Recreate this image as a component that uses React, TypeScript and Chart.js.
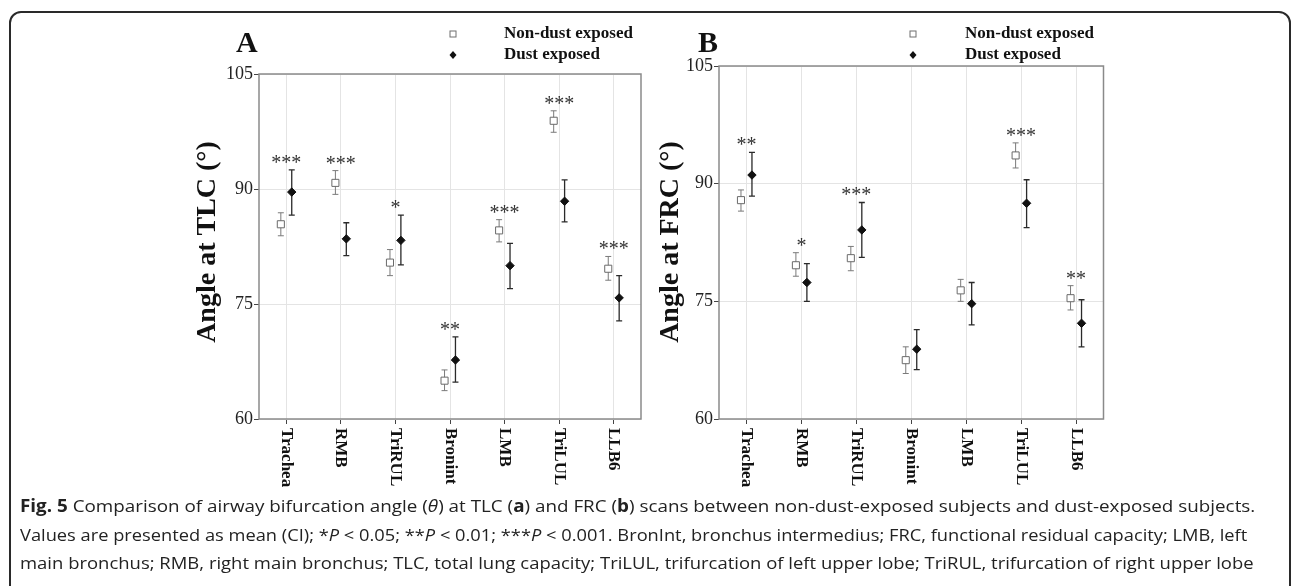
import React, { useEffect, useLayoutEffect, useRef } from "react";
import { Chart, registerables } from "chart.js";
Chart.register(...registerables);

// ---------- data ----------
const categories = ["Trachea", "RMB", "TriRUL", "Bronint", "LMB", "TriLUL", "LLB6"];
const yTicks = [60, 75, 90, 105];
const seriesLabels = ["Non-dust exposed", "Dust exposed"];

// Panel A: angle at TLC
const tlcNonDustMean = [85.4, 90.8, 80.4, 65.0, 84.6, 98.9, 79.6];
const tlcNonDustLow = [83.9, 89.3, 78.7, 63.7, 83.1, 97.4, 78.1];
const tlcNonDustHigh = [86.9, 92.4, 82.1, 66.4, 86.0, 100.2, 81.2];
const tlcDustMean = [89.6, 83.5, 83.3, 67.7, 80.0, 88.4, 75.8];
const tlcDustLow = [86.6, 81.3, 80.1, 64.8, 77.0, 85.7, 72.8];
const tlcDustHigh = [92.5, 85.6, 86.6, 70.7, 82.9, 91.2, 78.7];
const tlcSig = ["***", "***", "*", "**", "***", "***", "***"];

// Panel B: angle at FRC
const frcNonDustMean = [87.9, 79.6, 80.5, 67.5, 76.4, 93.6, 75.4];
const frcNonDustLow = [86.5, 78.2, 78.9, 65.8, 75.0, 92.0, 73.9];
const frcNonDustHigh = [89.2, 81.2, 82.0, 69.2, 77.8, 95.2, 77.0];
const frcDustMean = [91.1, 77.4, 84.1, 68.9, 74.7, 87.5, 72.2];
const frcDustLow = [88.4, 75.0, 80.6, 66.3, 72.0, 84.4, 69.2];
const frcDustHigh = [94.0, 79.8, 87.6, 71.4, 77.4, 90.5, 75.2];
const frcSig = ["**", "*", "***", "", "", "***", "**"];

const SERIF = '"Liberation Serif", "Times New Roman", serif';

type PanelCfg = {
  letter: string;
  yTitle: string;
  nd: { mean: number[]; low: number[]; high: number[] };
  d: { mean: number[]; low: number[]; high: number[] };
  sig: string[];
  W: number;
  H: number;
  plotLeft: number;
  plotRight: number;
  plotTop: number;
  plotBottom: number;
  yTitleX: number;
  letterX: number;
  legendMarkerX: number;
  legendTextX: number;
};

function makeChart(canvas: HTMLCanvasElement, c: PanelCfg) {
  const decor = {
    id: "decor",
    beforeDatasetsDraw(chart: any) {
      const ctx = chart.ctx;
      const a = chart.chartArea;
      const ys = chart.scales.y;
      ctx.save();
      ctx.strokeStyle = "#8a8a8a";
      ctx.lineWidth = 1.5;
      ctx.strokeRect(a.left, a.top, a.right - a.left, a.bottom - a.top);
      chart.data.datasets.forEach((ds: any, di: number) => {
        const meta = chart.getDatasetMeta(di);
        ctx.strokeStyle = ds.barColor;
        ctx.lineWidth = ds.barWidth;
        meta.data.forEach((pt: any, j: number) => {
          const y1 = ys.getPixelForValue(ds.errLow[j]);
          const y2 = ys.getPixelForValue(ds.errHigh[j]);
          ctx.beginPath();
          ctx.moveTo(pt.x, y1);
          ctx.lineTo(pt.x, y2);
          ctx.moveTo(pt.x - 3, y1);
          ctx.lineTo(pt.x + 3, y1);
          ctx.moveTo(pt.x - 3, y2);
          ctx.lineTo(pt.x + 3, y2);
          ctx.stroke();
        });
      });
      ctx.restore();
    },
    afterDraw(chart: any) {
      const ctx = chart.ctx;
      const a = chart.chartArea;
      const xs = chart.scales.x;
      const ys = chart.scales.y;
      ctx.save();
      // significance stars
      ctx.fillStyle = "#333";
      ctx.font = `20px ${SERIF}`;
      ctx.textAlign = "center";
      ctx.textBaseline = "alphabetic";
      c.sig.forEach((s, j) => {
        if (!s) return;
        const top = Math.min(ys.getPixelForValue(c.nd.high[j]), ys.getPixelForValue(c.d.high[j]));
        ctx.fillText(s, xs.getPixelForValue(j), top - 1);
      });
      // x category labels (rotated, reading downward)
      ctx.fillStyle = "#111";
      ctx.font = `bold 17px ${SERIF}`;
      ctx.textAlign = "left";
      ctx.textBaseline = "middle";
      categories.forEach((lab, j) => {
        ctx.save();
        ctx.translate(xs.getPixelForValue(j), a.bottom + 9);
        ctx.rotate(Math.PI / 2);
        ctx.fillText(lab, 0, 0);
        ctx.restore();
      });
      // y title
      ctx.save();
      ctx.translate(c.yTitleX, 242);
      ctx.rotate(-Math.PI / 2);
      ctx.textAlign = "center";
      ctx.textBaseline = "middle";
      ctx.font = `bold 28px ${SERIF}`;
      ctx.fillStyle = "#111";
      ctx.fillText(c.yTitle, 0, 0);
      ctx.restore();
      // panel letter
      ctx.font = `bold 30px ${SERIF}`;
      ctx.fillStyle = "#111";
      ctx.textAlign = "left";
      ctx.textBaseline = "alphabetic";
      ctx.fillText(c.letter, c.letterX, 52);
      // legend
      const rows = [34, 55];
      const mx = c.legendMarkerX;
      ctx.strokeStyle = "#6f6f6f";
      ctx.lineWidth = 1;
      ctx.strokeRect(mx - 3, rows[0] - 3, 6, 6);
      ctx.fillStyle = "#111";
      ctx.beginPath();
      ctx.moveTo(mx, rows[1] - 4);
      ctx.lineTo(mx + 3.5, rows[1]);
      ctx.lineTo(mx, rows[1] + 4);
      ctx.lineTo(mx - 3.5, rows[1]);
      ctx.closePath();
      ctx.fill();
      ctx.font = `bold 17px ${SERIF}`;
      ctx.textBaseline = "middle";
      ctx.fillText(seriesLabels[0], c.legendTextX, rows[0]);
      ctx.fillText(seriesLabels[1], c.legendTextX, rows[1]);
      ctx.restore();
    },
  };

  const gridCfg = { color: "#e4e4e4", lineWidth: 1, tickColor: "#444", tickLength: 5, drawTicks: true };

  return new Chart(canvas, {
    type: "scatter",
    data: {
      datasets: [
        {
          label: seriesLabels[0],
          data: c.nd.mean.map((v, i) => ({ x: i - 0.1, y: v })),
          errLow: c.nd.low,
          errHigh: c.nd.high,
          barColor: "#7a7a7a",
          barWidth: 1,
          pointStyle: "rect",
          pointRadius: 5,
          pointBackgroundColor: "#ffffff",
          pointBorderColor: "#6a6a6a",
          pointBorderWidth: 1,
          showLine: false,
        } as any,
        {
          label: seriesLabels[1],
          data: c.d.mean.map((v, i) => ({ x: i + 0.1, y: v })),
          errLow: c.d.low,
          errHigh: c.d.high,
          barColor: "#2a2a2a",
          barWidth: 1.3,
          pointStyle: "rectRot",
          pointRadius: 4.2,
          pointBackgroundColor: "#111",
          pointBorderColor: "#111",
          pointBorderWidth: 1,
          showLine: false,
        } as any,
      ],
    },
    options: {
      responsive: false,
      animation: false,
      devicePixelRatio: 1,
      events: [],
      layout: { padding: { left: 0, top: c.plotTop, right: c.W - c.plotRight, bottom: 0 } },
      plugins: { legend: { display: false }, tooltip: { enabled: false } },
      scales: {
        x: {
          type: "linear",
          min: -0.5,
          max: 6.5,
          afterBuildTicks: (s: any) => {
            s.ticks = categories.map((_, i) => ({ value: i }));
          },
          afterFit: (s: any) => {
            s.height = c.H - c.plotBottom;
          },
          ticks: { display: false },
          grid: gridCfg,
          border: { display: false },
        },
        y: {
          min: 60,
          max: 105,
          afterBuildTicks: (s: any) => {
            s.ticks = yTicks.map((v) => ({ value: v }));
          },
          afterFit: (s: any) => {
            s.width = c.plotLeft;
          },
          ticks: { font: { family: SERIF, size: 18 }, color: "#222", padding: 1 },
          grid: gridCfg,
          border: { display: false },
        },
      },
    } as any,
    plugins: [decor],
  });
}

function Panel({ cfg, left }: { cfg: PanelCfg; left: number }) {
  const ref = useRef<HTMLCanvasElement | null>(null);
  useEffect(() => {
    if (!ref.current) return;
    const ch = makeChart(ref.current, cfg);
    return () => ch.destroy();
  }, []);
  return (
    <canvas
      ref={ref}
      width={cfg.W}
      height={cfg.H}
      style={{ position: "absolute", left, top: 0, width: cfg.W, height: cfg.H }}
    />
  );
}

const panelA: PanelCfg = {
  letter: "A",
  yTitle: "Angle at TLC (°)",
  nd: { mean: tlcNonDustMean, low: tlcNonDustLow, high: tlcNonDustHigh },
  d: { mean: tlcDustMean, low: tlcDustLow, high: tlcDustHigh },
  sig: tlcSig,
  W: 660,
  H: 500,
  plotLeft: 259,
  plotRight: 641,
  plotTop: 74,
  plotBottom: 419,
  yTitleX: 208,
  letterX: 236,
  legendMarkerX: 453,
  legendTextX: 504,
};

const panelB: PanelCfg = {
  letter: "B",
  yTitle: "Angle at FRC (°)",
  nd: { mean: frcNonDustMean, low: frcNonDustLow, high: frcNonDustHigh },
  d: { mean: frcDustMean, low: frcDustLow, high: frcDustHigh },
  sig: frcSig,
  W: 655,
  H: 500,
  plotLeft: 79,
  plotRight: 463.5,
  plotTop: 66,
  plotBottom: 419,
  yTitleX: 30.5,
  letterX: 58,
  legendMarkerX: 273,
  legendTextX: 325,
};

const captionTargets = [1235, 1227, 1234];

function Caption() {
  const refs = [useRef<HTMLDivElement | null>(null), useRef<HTMLDivElement | null>(null), useRef<HTMLDivElement | null>(null)];
  useLayoutEffect(() => {
    refs.forEach((r, i) => {
      const el = r.current;
      if (!el) return;
      const natural = el.scrollWidth;
      el.style.transform = `scaleX(${captionTargets[i] / natural})`;
    });
  }, []);
  const lineStyle: React.CSSProperties = {
    position: "absolute",
    left: 20,
    whiteSpace: "nowrap",
    transformOrigin: "0 50%",
    fontFamily: '"Open Sans", "Noto Sans", sans-serif',
    fontSize: 17,
    lineHeight: "28px",
    color: "#222",
  };
  return (
    <>
      <div ref={refs[0]} style={{ ...lineStyle, top: 492 }}>
        <b>Fig. 5</b> Comparison of airway bifurcation angle (<i>θ</i>) at TLC (<b>a</b>) and FRC (<b>b</b>) scans between non-dust-exposed subjects and dust-exposed subjects.
      </div>
      <div ref={refs[1]} style={{ ...lineStyle, top: 521 }}>
        Values are presented as mean (CI); *<i>P</i> &lt; 0.05; **<i>P</i> &lt; 0.01; ***<i>P</i> &lt; 0.001. BronInt, bronchus intermedius; FRC, functional residual capacity; LMB, left
      </div>
      <div ref={refs[2]} style={{ ...lineStyle, top: 549 }}>
        main bronchus; RMB, right main bronchus; TLC, total lung capacity; TriLUL, trifurcation of left upper lobe; TriRUL, trifurcation of right upper lobe
      </div>
    </>
  );
}

export default function App() {
  return (
    <div style={{ position: "fixed", left: 0, top: 0, width: 1295, height: 586, overflow: "hidden", background: "#fff" }}>
      <div
        style={{
          position: "absolute",
          left: 9,
          top: 11,
          width: 1282,
          height: 640,
          boxSizing: "border-box",
          border: "2px solid #2a2a2a",
          borderRadius: 12,
        }}
      />
      <Panel cfg={panelA} left={0} />
      <Panel cfg={panelB} left={640} />
      <Caption />
    </div>
  );
}
